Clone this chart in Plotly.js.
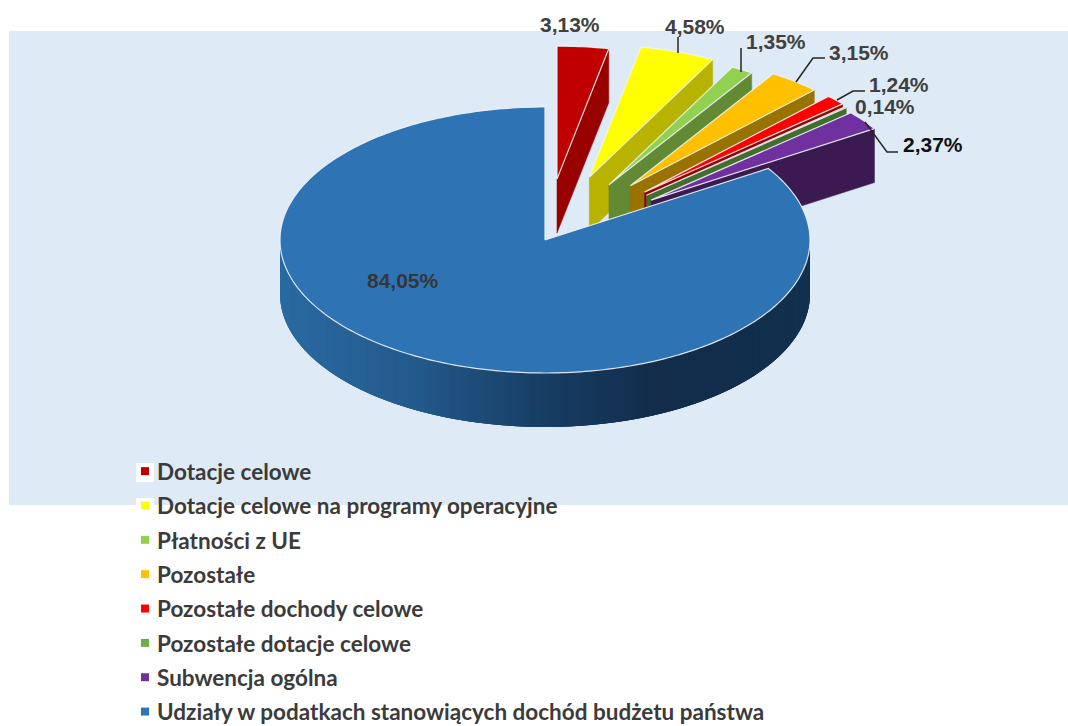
<!DOCTYPE html>
<html>
<head>
<meta charset="utf-8">
<script src="https://cdn.plot.ly/plotly-3.0.1.min.js"></script>
<style>html,body{margin:0;padding:0;background:#fff}#chart{width:1068px;height:726px}</style>
</head>
<body>
<div id="chart"></div>
<script>
const categories = ["Dotacje celowe","Dotacje celowe na programy operacyjne","Płatności z UE","Pozostałe","Pozostałe dochody celowe","Pozostałe dotacje celowe","Subwencja ogólna","Udziały w podatkach stanowiących dochód budżetu państwa"];
const shares = [3.13,4.58,1.35,3.15,1.24,0.14,2.37,84.05];
const topColors = ["#c00000","#ffff00","#92d050","#ffc000","#ff0000","#70ad47","#7030a0","#2e74b4"];
const wallColors = ["#990000","#b8b200","#628a35","#997300","#990000","#436d2c","#3a1a50","#1c4a75"];
const swatchColors = ["#c00000","#ffff00","#92d050","#ffc000","#ff0000","#70ad47","#7030a0","#2e75b6"];
const explode = [0.46,0.5,0.48,0.52,0.52,0.51,0.5,0];

// label centres and leader polylines (canvas pixels)
const labelXY = [[570,24],[695,26],[776,41],[859,52],[899,84],[885,106],[933,144],[403,280]];
const labelColor = ["#404040","#404040","#404040","#404040","#404040","#404040","#111111","#363636"];
const leaders = [
  [[678,53],[678,37]],
  [[741,72],[741,48]],
  [[796,82],[813,58],[825,58]],
  [[837,100],[853,91],[865,91]],
  [[865,122],[887,152],[898,152]]
];

const CX=545, CY=240, RX=265, RY=133, DEPTH=54;
const total = shares.reduce((a,b)=>a+b,0);
const traces = [];
const rad = d=>d*Math.PI/180;
const pt = (cx,cy,a)=>[cx+RX*Math.sin(rad(a)), cy-RY*Math.cos(rad(a))];

function poly(points, fill, line, lw){
  traces.push({type:'scatter',mode:'lines',x:points.map(p=>p[0]),y:points.map(p=>p[1]),
    fill:'toself',fillcolor:fill,line:{color:line,width:lw,simplify:false},
    hoverinfo:'skip',showlegend:false});
}
function hex(c){return [1,3,5].map(i=>parseInt(c.substr(i,2),16));}
const gradStops=[[0,"#2a6aa2"],[0.25,"#235a8d"],[0.5,"#173d63"],[0.72,"#122c4a"],[1,"#12304f"]];
function grad(f){
  for(let i=1;i<gradStops.length;i++){
    if(f<=gradStops[i][0]){
      const [a,b]=[gradStops[i-1],gradStops[i]];
      const t=(f-a[0])/(b[0]-a[0]);
      const A=hex(a[1]),B=hex(b[1]);
      return 'rgb('+A.map((v,k)=>Math.round(v+(B[k]-v)*t)).join(',')+')';
    }
  }
  return gradStops[gradStops.length-1][1];
}

let cum=0;
shares.forEach((v,i)=>{
  const a0=cum/total*360, a1=(cum+v)/total*360; cum+=v;
  const mid=(a0+a1)/2;
  const cx=CX+explode[i]*RX*Math.sin(rad(mid)), cy=CY-explode[i]*RY*Math.cos(rad(mid));
  const arc=[];
  const n=Math.max(2,Math.ceil(a1-a0));
  for(let k=0;k<=n;k++) arc.push(pt(cx,cy,a0+(a1-a0)*k/n));
  if(i<shares.length-1){
    // radial wall on the clockwise edge
    const rim=pt(cx,cy,a1);
    poly([[cx,cy],rim,[rim[0],rim[1]+DEPTH],[cx,cy+DEPTH],[cx,cy]],wallColors[i],wallColors[i],0.5);
  } else {
    // outer wall facing the viewer, shaded segment by segment
    for(let a=90;a<270;a+=1){
      const p=pt(cx,cy,a),q=pt(cx,cy,Math.min(a+3,270));
      const col=grad((Math.sin(rad(a+0.5))+1)/2);
      poly([p,q,[q[0],q[1]+DEPTH],[p[0],p[1]+DEPTH],p],col,col,0);
    }
  }
  poly([[cx,cy],...arc,[cx,cy]],topColors[i],'rgba(238,243,250,0.9)',1.2);
});

// legend entries
categories.forEach((c,i)=>{
  traces.push({type:'scatter',mode:'markers',x:[null],y:[null],name:c,legendgroup:'g'+i,
    marker:{symbol:'square',size:8,color:swatchColors[i]},hoverinfo:'skip',showlegend:true});
});

const annotations=shares.map((v,i)=>({
  xref:'x',yref:'y',x:labelXY[i][0],y:labelXY[i][1],showarrow:false,
  text:'<b>'+v.toFixed(2).replace('.',',')+'%</b>',
  font:{family:'"Liberation Sans",Arial,sans-serif',size:21,color:labelColor[i]},
  xanchor:'center',yanchor:'middle'
}));

const shapes=[
  {type:'rect',xref:'x',yref:'y',x0:9,x1:1068,y0:31,y1:505,fillcolor:'#deeaf6',line:{width:0},layer:'below'},
  {type:'rect',xref:'x',yref:'y',x0:136,x1:154,y0:463,y1:482,fillcolor:'#ffffff',line:{width:0},layer:'below'},
  {type:'rect',xref:'x',yref:'y',x0:136,x1:154,y0:498,y1:516,fillcolor:'#ffffff',line:{width:0},layer:'below'}
];
leaders.forEach(l=>{
  shapes.push({type:'path',xref:'x',yref:'y',layer:'above',
    path:l.map((p,i)=>(i?'L':'M')+p[0]+' '+p[1]).join(' '),
    line:{color:'#262626',width:1.5}});
});

const layout={
  width:1068,height:726,margin:{l:0,r:0,t:0,b:0,autoexpand:false},
  paper_bgcolor:'#ffffff',plot_bgcolor:'rgba(0,0,0,0)',
  xaxis:{range:[0,1068],visible:false,fixedrange:true},
  yaxis:{range:[726,0],visible:false,fixedrange:true},
  showlegend:true,
  legend:{x:129/1068,y:1-450/726,xanchor:'left',yanchor:'top',bgcolor:'rgba(0,0,0,0)',
    borderwidth:0,traceorder:'grouped',tracegroupgap:2.1,indentation:-12,
    font:{family:'Lato,"Open Sans",sans-serif',size:22.5,color:'#3b3b3b',weight:700}},
  shapes,annotations,hovermode:false
};
Plotly.newPlot('chart',traces,layout,{staticPlot:true,displayModeBar:false}).then(()=>{
  // legend swatches sit closer to their text than the library's minimum item width allows
  document.querySelectorAll('.legend .legendsymbols').forEach(el=>el.setAttribute('transform','translate(8,0)'));
});
</script>
</body>
</html>
